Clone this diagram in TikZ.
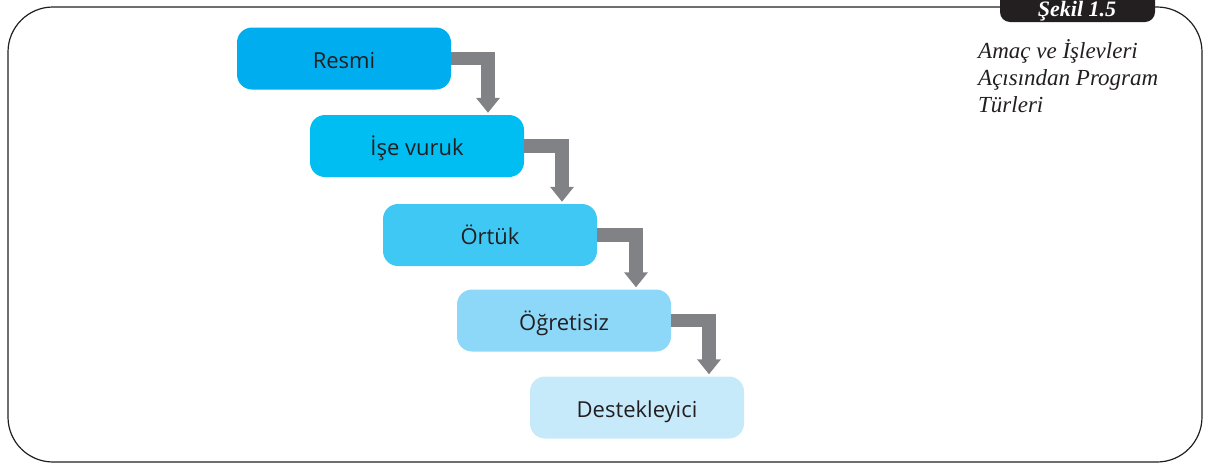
\documentclass[tikz,border=0pt]{standalone}
\usepackage{fontspec}
\setmainfont{Liberation Serif}
\newfontfamily\stagefont{Open Sans}
\usetikzlibrary{arrows.meta}

\definecolor{ink}{RGB}{35,31,32}
\definecolor{flowgray}{RGB}{128,130,133}
\definecolor{lvlA}{RGB}{0,174,239}
\definecolor{lvlB}{RGB}{0,189,242}
\definecolor{lvlC}{RGB}{64,200,244}
\definecolor{lvlD}{RGB}{141,216,248}
\definecolor{lvlE}{RGB}{199,234,251}

\tikzset{
  stage/.style={rectangle, rounded corners=15pt, minimum width=214pt,
    minimum height=62pt, inner sep=0pt, text=ink,
    text height=19pt, text depth=0pt,
    font=\stagefont\fontsize{22}{26}\selectfont},
  flow/.style={draw=flowgray, line width=13.5pt,
    -{Triangle[width=23pt,length=15pt]}, shorten >=2pt},
  frame/.style={draw=ink, line width=1.2pt, rounded corners=45pt},
  captext/.style={anchor=base west, inner sep=0pt, text=ink,
    font=\itshape\fontsize{23}{27}\selectfont},
  tabtext/.style={anchor=base, inner sep=0pt, text=white,
    font=\bfseries\itshape\fontsize{22}{26}\selectfont},
}

\begin{document}
\begin{tikzpicture}[x=1pt,y=-1pt]
\useasboundingbox (0,0) rectangle (1211,464);

% outer frame with the figure tab on top
\draw[frame] (8,7) rectangle (1202,462);
\fill[ink, rounded corners=10pt] (1000,-20) rectangle (1155,22);
\node[tabtext] (tab) at (1077,16) {Şekil 1.5};

% caption
\node[captext] (cap1) at (978,58) {Amaç ve İşlevleri};
\node[captext] (cap2) at (978,85.5) {Açısından Program};
\node[captext] (cap3) at (978,112) {Türleri};

% program types, stepping down to the right
\node[stage, fill=lvlA] (s1) at (344,58.5)  {Resmi};
\node[stage, fill=lvlB] (s2) at (417,146)   {İşe vuruk};
\node[stage, fill=lvlC] (s3) at (490,235)   {Örtük};
\node[stage, fill=lvlD] (s4) at (564,320.5) {Öğretisiz};
\node[stage, fill=lvlE] (s5) at (637,407.5) {Destekleyici};

% elbow arrows between consecutive stages
\draw[flow] (s1.east) -| ([xshift=71pt]s2.north);
\draw[flow] (s2.east) -| ([xshift=72pt]s3.north);
\draw[flow] (s3.east) -| ([xshift=72pt]s4.north);
\draw[flow] (s4.east) -| ([xshift=72pt]s5.north);
\end{tikzpicture}
\end{document}
